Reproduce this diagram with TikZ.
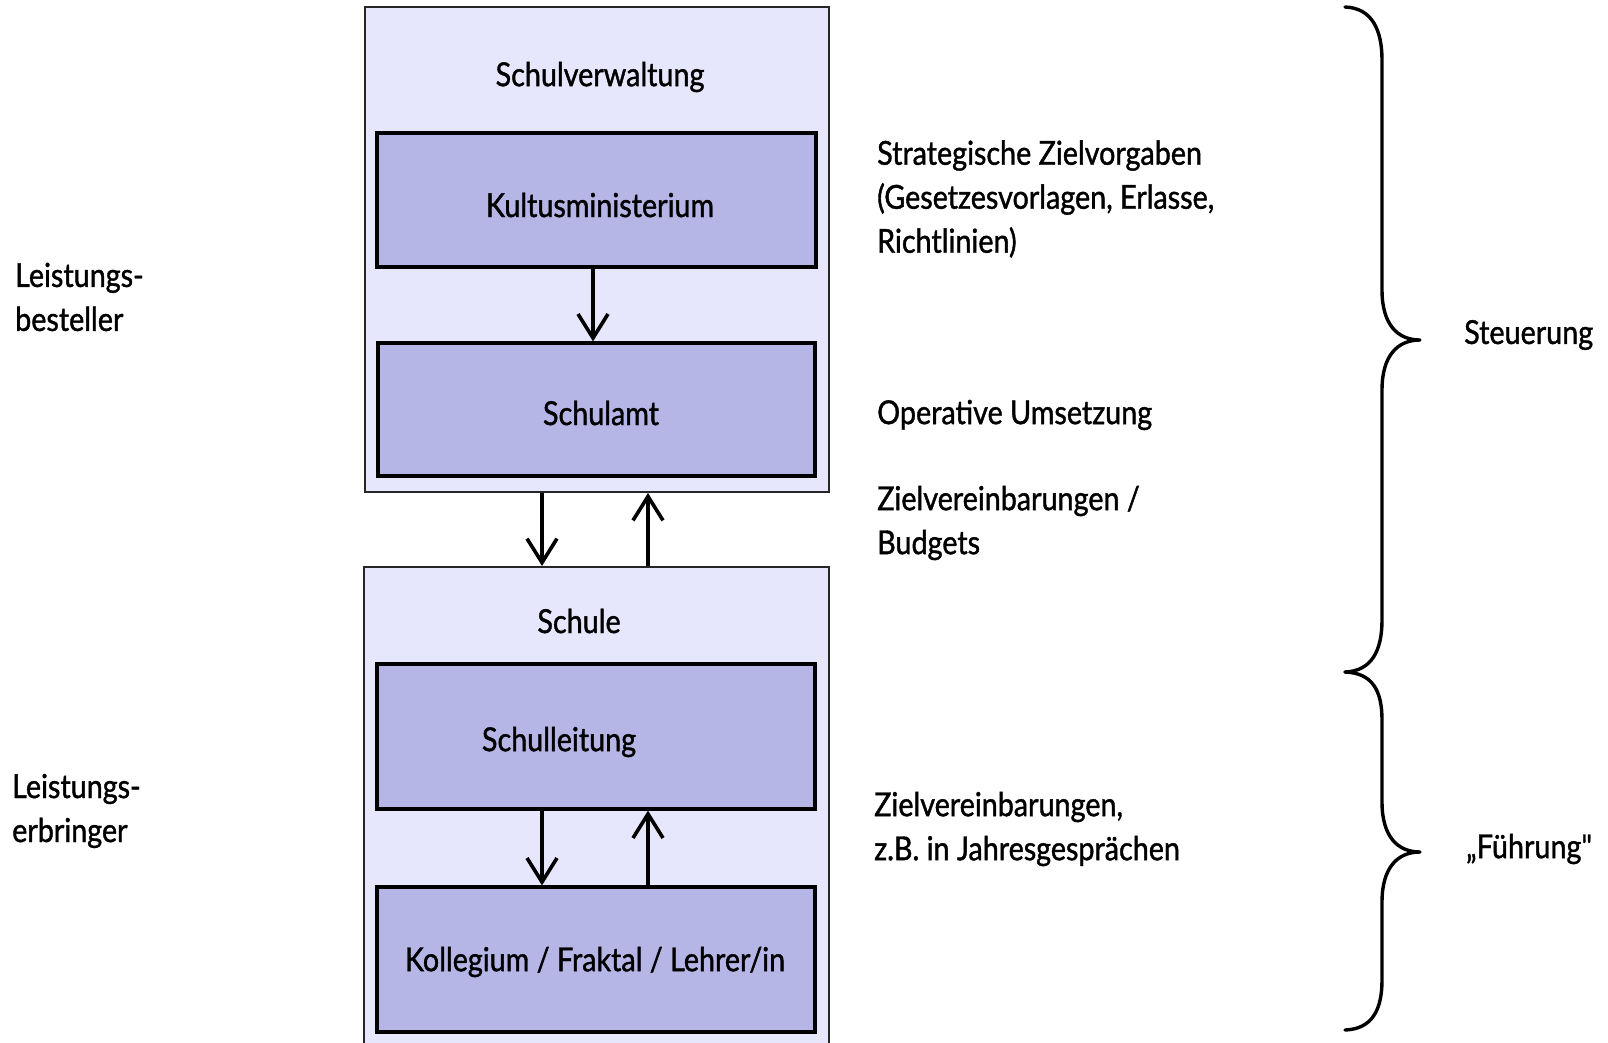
\documentclass[tikz,border=0pt]{standalone}
\usepackage{fontspec}
\setmainfont{Lato}[FakeStretch=0.87, FakeBold=1.2]
\usetikzlibrary{arrows.meta}
\definecolor{outerfill}{RGB}{230,230,252}
\definecolor{innerfill}{RGB}{181,181,230}
\tikzset{
  outerbox/.style={draw=black!85, line width=2pt, fill=outerfill, minimum width=#1, inner sep=0pt},
  innerbox/.style={draw=black, line width=3.2pt, fill=innerfill, inner sep=0pt, text depth=0pt},
  lbl/.style={font=\fontsize{33}{44}\selectfont, inner sep=0pt, align=left},
  arr/.style={line width=3.6pt, -{Straight Barb[length=24pt,width=30pt]}},
  brace/.style={line width=3.4pt, line cap=round, line join=round},
}
\begin{document}
\begin{tikzpicture}[x=1pt,y=-1pt]
\path[clip] (0,0) rectangle (1608,1042);
\fill[white] (0,0) rectangle (1608,1042);

% administration level
\node[outerbox=464pt, minimum height=485pt] (verw) at (597,249.5) {};
\node[lbl] (verwt) at (600,77) {Schulverwaltung};
\node[innerbox, minimum width=439pt, minimum height=134pt] (kultus) at (596.5,200) {};
\node[lbl] (kultust) at (600,205) {Kultusministerium};
\node[innerbox, minimum width=437pt, minimum height=133pt] (amt) at (596.5,409.5) {};
\node[lbl] (amtt) at (601,413) {Schulamt};

% school level
\node[outerbox=465pt, minimum height=493pt] (schule) at (596.5,813.5) {};
\node[lbl] (schulet) at (579,621) {Schule};
\node[innerbox, minimum width=438pt, minimum height=145pt] (leitung) at (596,736.5) {};
\node[lbl] (leitungt) at (559,742) {Schulleitung};
\node[innerbox, minimum width=438pt, minimum height=145pt] (koll) at (596,959.5) {};
\node[lbl] (kollt) at (595,962) {Kollegium / Fraktal / Lehrer/in};

% connectors
\draw[arr] ([xshift=-3.5pt]kultus.south) -- ([xshift=-3.5pt]amt.north);
\draw[arr] ([xshift=-55pt]verw.south) -- ([xshift=-54.5pt]schule.north);
\draw[arr] ([xshift=51.5pt]schule.north) -- ([xshift=51pt]verw.south);
\draw[arr] ([xshift=-54pt]leitung.south) -- ([xshift=-54pt]koll.north);
\draw[arr] ([xshift=52pt]koll.north) -- ([xshift=52pt]leitung.south);

% explanations
\node[lbl, anchor=west] (strat) at (877,199) {Strategische Zielvorgaben\\(Gesetzesvorlagen, Erlasse,\\Richtlinien)};
\node[lbl, anchor=west] (oper) at (877,415) {Operative Umsetzung};
\node[lbl, anchor=west] (budg) at (877,523) {Zielvereinbarungen /\\Budgets};
\node[lbl, anchor=west] (jahr) at (874,829) {Zielvereinbarungen,\\z.B. in Jahresgesprächen};

\node[lbl, anchor=west] (best) at (15,297) {Leistungs-\\besteller};
\node[lbl, anchor=west] (erbr) at (12,811) {Leistungs-\\erbringer};

% braces
\draw[brace] (1345,7) .. controls (1372,8) and (1382,30) .. (1382,60)
  -- (1382,290) .. controls (1382,325) and (1398,340) .. (1420,340)
  .. controls (1398,340) and (1382,355) .. (1382,390)
  -- (1382,620) .. controls (1382,650) and (1372,671) .. (1345,672);
\draw[brace] (1345,672) .. controls (1372,673) and (1382,690) .. (1382,720)
  -- (1382,802) .. controls (1382,837) and (1398,852) .. (1420,852)
  .. controls (1398,852) and (1382,867) .. (1382,902)
  -- (1382,980) .. controls (1382,1010) and (1372,1029) .. (1345,1030);
\node[lbl, anchor=west] (steu) at (1464,335) {Steuerung};
\node[lbl, anchor=west] (fuehr) at (1466,849) {„Führung\textquotedbl};
\end{tikzpicture}
\end{document}
